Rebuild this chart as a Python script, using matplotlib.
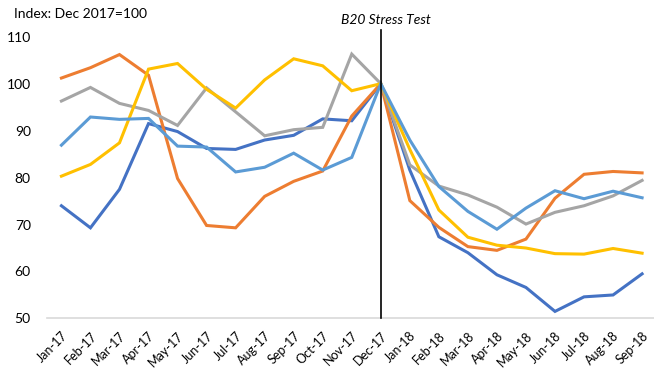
import matplotlib.pyplot as plt
import numpy as np

plt.rcParams['font.family'] = ['Lato', 'DejaVu Sans']

months = ['Jan-17', 'Feb-17', 'Mar-17', 'Apr-17', 'May-17', 'Jun-17', 'Jul-17',
          'Aug-17', 'Sep-17', 'Oct-17', 'Nov-17', 'Dec-17', 'Jan-18', 'Feb-18',
          'Mar-18', 'Apr-18', 'May-18', 'Jun-18', 'Jul-18', 'Aug-18', 'Sep-18']

blue = [74.0, 69.3, 77.5, 91.5, 89.8, 86.2, 86.0, 88.0, 89.0, 92.5, 92.1, 100,
        81.6, 67.4, 64.0, 59.3, 56.6, 51.5, 54.6, 55.0, 59.5]
orange = [101.2, 103.4, 106.2, 101.8, 79.8, 69.8, 69.3, 76.0, 79.2, 81.4, 93.1, 100,
          75.1, 69.4, 65.3, 64.5, 66.9, 75.6, 80.7, 81.3, 81.0]
grey = [96.3, 99.2, 95.8, 94.3, 91.1, 99.1, 94.0, 88.9, 90.2, 90.7, 106.3, 100,
        82.7, 78.2, 76.3, 73.7, 70.1, 72.6, 74.0, 76.1, 79.4]
yellow = [80.3, 82.8, 87.4, 103.1, 104.3, 98.8, 94.8, 100.8, 105.3, 103.8, 98.5, 100,
          86.0, 73.1, 67.3, 65.6, 65.0, 63.8, 63.7, 64.9, 63.9]
light_blue = [86.9, 92.9, 92.4, 92.6, 86.7, 86.5, 81.2, 82.2, 85.2, 81.6, 84.3, 100,
              88.0, 78.1, 72.8, 69.0, 73.5, 77.2, 75.5, 77.1, 75.7]

series = [(blue, '#4472C4'), (orange, '#ED7D31'), (grey, '#A5A5A5'),
          (yellow, '#FFC000'), (light_blue, '#5B9BD5')]

x = np.arange(len(months))
event = months.index('Dec-17')

fig = plt.figure(figsize=(6.54, 3.69), dpi=100)
ax = fig.add_axes([0.0726, 0.137, 0.9274, 0.7635])

for vals, col in series:
    ax.plot(x, vals, color=col, lw=2.2, solid_joinstyle='miter')

# stress test marker line, runs a little above the plot area
ax.plot([event, event], [50, 111.4], color='black', lw=1.2, clip_on=False, zorder=5)
ax.text(event + 0.18, 112.2, 'B20 Stress Test', style='italic', fontsize=10,
        ha='center', va='bottom')

ax.set_xlim(-0.48, 20.41)
ax.set_ylim(50, 110)
ax.set_yticks([50, 60, 70, 80, 90, 100, 110])
ax.set_xticks(x)
ax.set_xticklabels(months, rotation=45, ha='right', va='top',
                   rotation_mode='anchor', fontsize=9)

for s in ['top', 'right', 'left']:
    ax.spines[s].set_visible(False)
ax.spines['bottom'].set_color('#D9D9D9')
ax.spines['bottom'].set_linewidth(1.2)
ax.tick_params(axis='both', length=0, labelsize=10)
ax.tick_params(axis='y', pad=12)
ax.tick_params(axis='x', pad=8, labelsize=9)

fig.text(0.021, 0.945, 'Index: Dec 2017=100', fontsize=10, ha='left', va='bottom')

fig.savefig('out.png', dpi=100)
